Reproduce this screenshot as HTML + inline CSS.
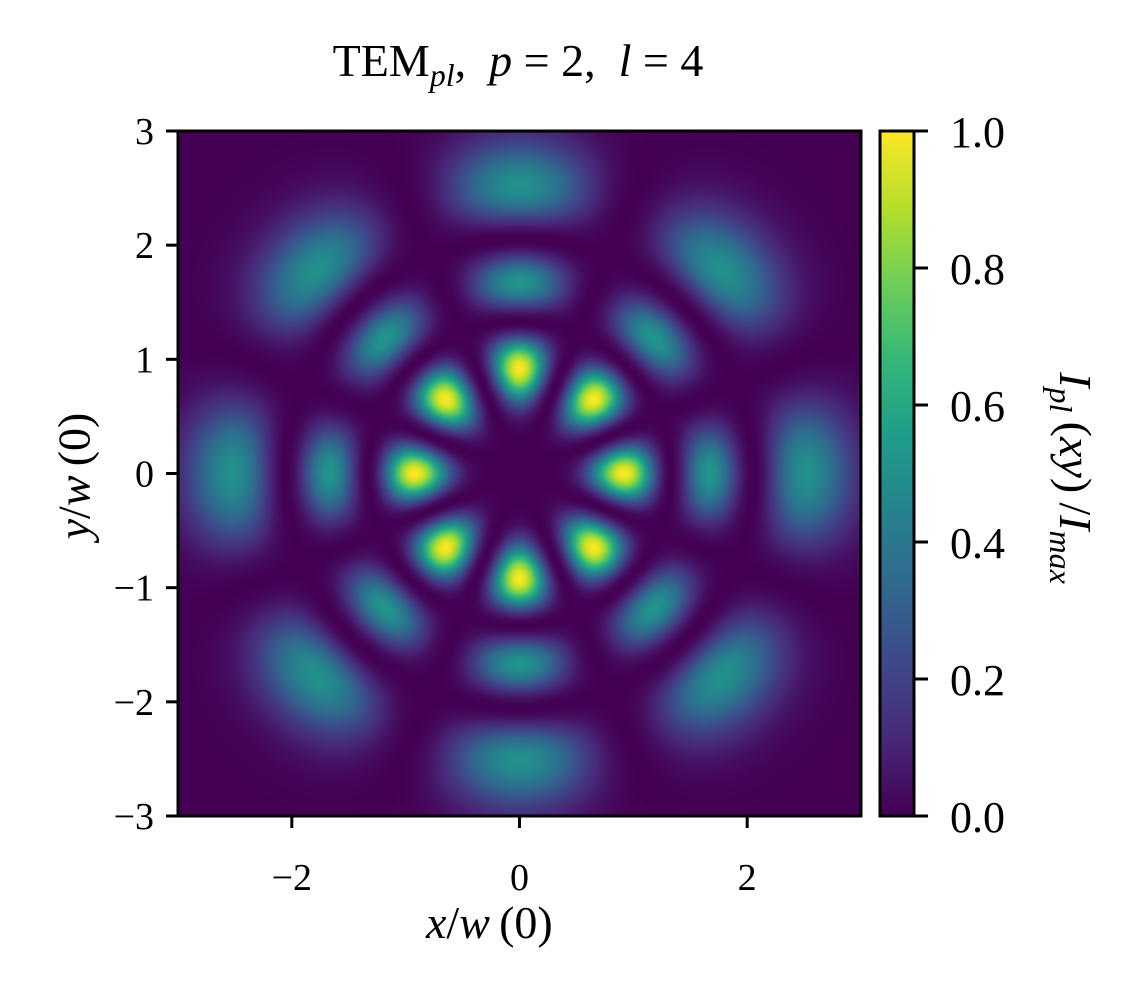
<!DOCTYPE html>
<html><head><meta charset="utf-8"><style>
body{margin:0;background:#fff;width:1148px;height:996px;overflow:hidden;position:relative;font-family:"Liberation Serif",serif}
.t{position:absolute;white-space:nowrap;color:#000}
</style></head><body>
<div class="t" style="left:0;width:1036px;top:34px;text-align:center;font-size:46px">TEM<sub style="font-style:italic;font-size:32px">pl</sub>,&nbsp; <i>p</i> = 2,&nbsp; <i>l</i> = 4</div>
<canvas id="hm" width="683" height="685" style="position:absolute;left:178px;top:131px"></canvas>
<canvas id="cb" width="34" height="685" style="position:absolute;left:880px;top:131px"></canvas>
<svg id="ax" width="1148" height="996" style="position:absolute;left:0;top:0"></svg>
<div class="t" style="left:426px;top:896px;font-size:46px"><i>x</i>/<i>w</i>&thinsp;(0)</div>
<div class="t" style="left:74px;top:476px;font-size:46px;transform:translate(-50%,-50%) rotate(-90deg)"><i>y</i>/<i>w</i>&thinsp;(0)</div>
<div class="t" style="left:1072px;top:478px;font-size:46px;transform:translate(-50%,-50%) rotate(90deg)"><i>I<sub style="font-size:32px">pl</sub></i>&thinsp;(<i>xy</i>)&thinsp;/<i>I<sub style="font-size:32px">max</sub></i></div>
<script>
const modeP=[2];const modeL=[4];
const xTicks=[-2,0,2];const yTicks=[-3,-2,-1,0,1,2,3];
const cbTicks=[0,0.2,0.4,0.6,0.8,1.0];
const extent=[-3,3];
const vir=[[68,1,84],[72,40,120],[62,73,137],[49,104,142],[38,130,142],[31,158,137],[53,183,121],[110,206,88],[181,222,43],[253,231,37]];
function cmap(v){v=Math.max(0,Math.min(1,v))*(vir.length-1);const i=Math.min(Math.floor(v),vir.length-2),f=v-i;return vir[i].map((c,k)=>c+(vir[i+1][k]-c)*f);}
function lag(p,a,x){let L0=1,L1=1+a-x;if(p==0)return L0;for(let k=1;k<p;k++){const L2=((2*k+1+a-x)*L1-(k+a)*L0)/(k+1);L0=L1;L1=L2;}return L1;}
const W=683,H=685,X0=178,X1=861,Y0=131,Y1=816;
const sx=v=>X0+(v-extent[0])/(extent[1]-extent[0])*(X1-X0);
const sy=v=>Y1-(v-extent[0])/(extent[1]-extent[0])*(Y1-Y0);
const p=modeP[0],l=modeL[0];
const c=document.getElementById('hm').getContext('2d');const img=c.createImageData(W,H);
const vals=new Float32Array(W*H);let mx=0;
for(let j=0;j<H;j++)for(let i=0;i<W;i++){const x=extent[0]+(i+0.5)/W*6,y=extent[1]-(j+0.5)/H*6;const r2=x*x+y*y,ph=Math.atan2(y,x);const L=lag(p,l,2*r2);const v=Math.pow(2*r2,l)*L*L*Math.exp(-2*r2)*Math.pow(Math.cos(l*ph),2);vals[j*W+i]=v;if(v>mx)mx=v;}
for(let k=0;k<W*H;k++){const col=cmap(vals[k]/mx);img.data[4*k]=col[0];img.data[4*k+1]=col[1];img.data[4*k+2]=col[2];img.data[4*k+3]=255;}
c.putImageData(img,0,0);
const cb=document.getElementById('cb').getContext('2d');for(let j=0;j<H;j++){const col=cmap(1-j/(H-1));cb.fillStyle=`rgb(${col.map(Math.round)})`;cb.fillRect(0,j,34,1);}
const svg=document.getElementById('ax');const NS='http://www.w3.org/2000/svg';
function mk(t,a){const e=document.createElementNS(NS,t);for(const k in a)e.setAttribute(k,a[k]);svg.appendChild(e);return e;}
let e=mk('rect',{x:X0,y:Y0,width:X1-X0,height:Y1-Y0,fill:'none',stroke:'#000','stroke-width':3});

e=mk('rect',{x:880,y:Y0,width:34,height:Y1-Y0,fill:'none',stroke:'#000','stroke-width':3});

const fmt=v=>v<0?'\u2212'+(-v):String(v);
xTicks.forEach(v=>{const x=sx(v);mk('line',{x1:x,x2:x,y1:Y1,y2:Y1+12,stroke:'#000','stroke-width':3});
const t=mk('text',{x:x,y:Y1+74,'text-anchor':'middle','font-size':'38px','font-family':'Liberation Serif'});t.textContent=fmt(v);
});
yTicks.forEach(v=>{const y=sy(v);mk('line',{x1:X0,x2:X0-12,y1:y,y2:y,stroke:'#000','stroke-width':3});
const t=mk('text',{x:X0-24,y:y+13,'text-anchor':'end','font-size':'38px','font-family':'Liberation Serif'});t.textContent=fmt(v);
});
cbTicks.forEach(v=>{const y=Y1-v*(Y1-Y0);mk('line',{x1:914,x2:928,y1:y,y2:y,stroke:'#000','stroke-width':3});
const t=mk('text',{x:950,y:y+16,'font-size':'44px','font-family':'Liberation Serif'});t.textContent=v.toFixed(1);
});
</script>
</body></html>
